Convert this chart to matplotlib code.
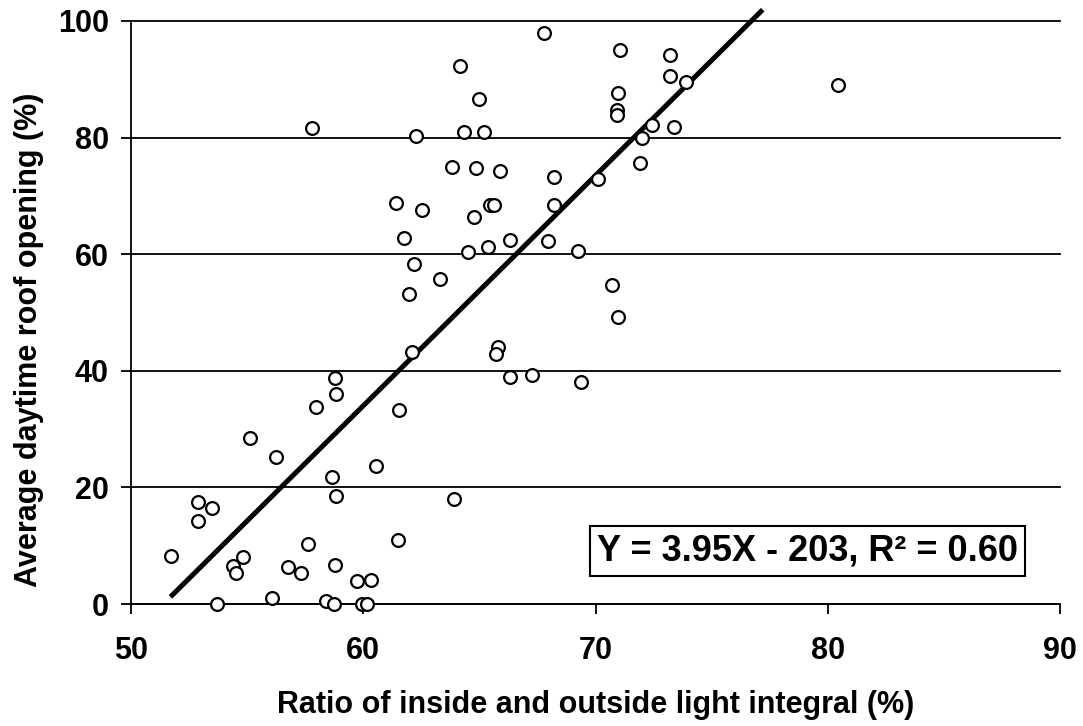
import matplotlib
matplotlib.use("Agg")
import matplotlib.pyplot as plt
import numpy as np

# Data
x_vals = [57.79, 62.27, 61.41, 62.53, 61.74, 62.18, 61.97,
          67.77, 64.17, 71.05, 73.22, 73.22, 73.89, 64.97, 70.97, 70.93, 70.93,
          72.44, 73.39, 64.34, 65.20, 72.01, 71.93, 63.82, 64.86, 65.88, 68.22,
          70.11, 65.47, 65.63, 68.22, 64.77, 66.32, 67.96, 65.36, 64.51, 69.25,
          63.30, 70.70, 70.98,
          62.10, 58.78, 58.84, 57.96, 61.52, 55.11, 56.24, 60.53, 58.65, 58.82,
          52.87, 53.49, 52.87, 57.61, 61.49, 51.71, 54.84, 54.38, 54.54, 56.75,
          57.34, 58.78, 59.75, 60.33, 56.06, 53.72, 58.39, 58.75, 59.93, 60.16,
          65.80, 65.72, 66.31, 67.27, 69.38, 63.89,
          80.46]
y_vals = [81.6, 80.2, 68.8, 67.5, 62.7, 58.3, 53.1,
          98.0, 92.3, 95.1, 94.1, 90.5, 89.5, 86.7, 87.7, 84.8, 83.9,
          82.2, 81.9, 80.9, 80.9, 80.0, 75.7, 74.9, 74.7, 74.3, 73.3,
          72.9, 68.4, 68.5, 68.5, 66.4, 62.5, 62.2, 61.3, 60.3, 60.6,
          55.8, 54.8, 49.2,
          43.2, 38.7, 36.1, 33.8, 33.2, 28.4, 25.3, 23.6, 21.7, 18.6,
          17.5, 16.5, 14.3, 10.3, 11.0, 8.3, 8.1, 6.5, 5.4, 6.4,
          5.4, 6.7, 4.0, 4.2, 1.1, 0.05, 0.6, 0.0, 0.0, 0.0,
          44.1, 42.8, 39.0, 39.2, 38.0, 18.0,
          89.0]

slope = 3.95
intercept = -203
fit_x = [51.7, 77.2]
equation_text = "Y = 3.95X - 203, R\u00b2 = 0.60"

x_ticks = [50, 60, 70, 80, 90]
y_ticks = [0, 20, 40, 60, 80, 100]

plt.rcParams['font.family'] = ['Liberation Sans', 'DejaVu Sans']
plt.rcParams['font.weight'] = 'bold'

fig = plt.figure(figsize=(10.83, 7.26), dpi=100)
ax = fig.add_axes([131/1083, 1-604/726, 929/1083, 583/726])

ax.set_xlim(50, 90)
ax.set_ylim(0, 100)

for yt in y_ticks:
    ax.axhline(yt, color='black', lw=1.3, zorder=1, clip_on=False)

fx = np.array(fit_x)
ax.plot(fx, slope*fx + intercept, color='black', lw=3.6, zorder=2,
        solid_capstyle='butt', clip_on=False)

ax.plot(x_vals, y_vals, linestyle='none', marker='o', markersize=9.2,
        markerfacecolor='white', markeredgecolor='black', markeredgewidth=1.6,
        zorder=3, clip_on=False)

for s in ['top', 'right']:
    ax.spines[s].set_visible(False)
for s in ['left', 'bottom']:
    ax.spines[s].set_linewidth(1.3)

ax.set_xticks(x_ticks)
ax.set_yticks(y_ticks)
ax.tick_params(axis='x', direction='out', length=7, width=1.3, pad=16, labelsize=22)
ax.tick_params(axis='y', direction='out', length=7, width=1.3, pad=9, labelsize=22)
for lab in ax.get_xticklabels() + ax.get_yticklabels():
    lab.set_fontweight('bold')

ax.set_xlabel("Ratio of inside and outside light integral (%)", fontsize=22, fontweight='bold')
ax.set_ylabel("Average daytime roof opening (%)", fontsize=22, fontweight='bold')
ax.xaxis.set_label_coords(0.5, -0.173)
ax.xaxis.label.set_va('center')
ax.yaxis.set_label_coords(-0.110, 0.453)
ax.yaxis.label.set_va('center')

ax.text((807.5-131)/929, (604-551)/583, equation_text, transform=ax.transAxes,
        fontsize=26, fontweight='bold', ha='center', va='center', zorder=5,
        bbox=dict(boxstyle='square,pad=0.2', facecolor='white', edgecolor='black', linewidth=1.5))

fig.savefig("out.png", dpi=100)
